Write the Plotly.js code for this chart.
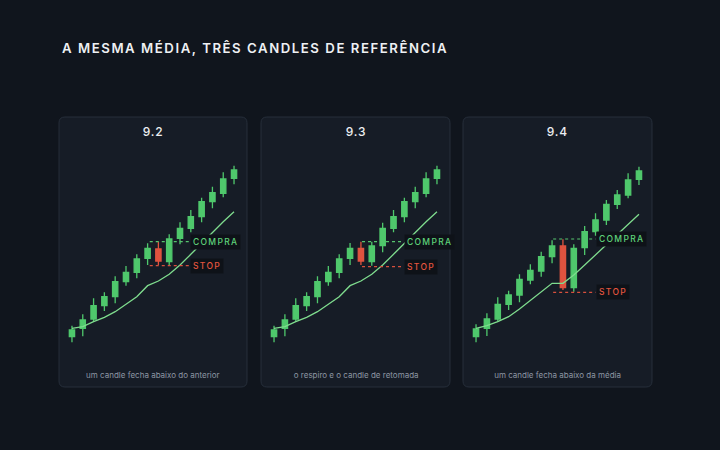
<!DOCTYPE html>
<html><head><meta charset="utf-8">
<script src="https://cdn.plot.ly/plotly-3.0.1.min.js"></script>
<style>
html,body{margin:0;padding:0;background:#10151d;}
.gtitle{letter-spacing:1.55px;}
.annotation-text{letter-spacing:1.3px;}
</style></head>
<body><div id="chart" style="width:720px;height:450px"></div>
<script>
// ---------- data ----------
const chartTitle = 'A MESMA MÉDIA, TRÊS CANDLES DE REFERÊNCIA';
const panelTitles = ['9.2', '9.3', '9.4'];
const panelCaptions = ['um candle fecha abaixo do anterior', 'o respiro e o candle de retomada', 'um candle fecha abaixo da média'];
const candleIdx = [1,2,3,4,5,6,7,8,9,10,11,12,13,14,15,16];

// 9.2
const p92Open  = [3.5, 6.0, 8.8, 12.8, 15.5, 20.0, 22.8, 27.0, 29.8, 26.0, 33.0, 36.0, 39.5, 44.0, 46.5, 51.0];
const p92High  = [6.8, 10.2, 15.0, 16.8, 21.6, 24.7, 28.2, 31.5, 32.0, 34.2, 37.8, 41.5, 45.2, 48.5, 52.8, 54.8];
const p92Low   = [1.8, 3.6, 8.0, 11.2, 13.5, 18.8, 21.0, 25.0, 25.0, 25.0, 31.2, 34.8, 37.8, 42.0, 45.3, 49.2];
const p92Close = [5.5, 8.5, 12.8, 15.5, 20.0, 22.8, 26.8, 30.0, 26.2, 32.8, 36.0, 39.5, 44.0, 46.7, 50.8, 53.5];
const p92Ma    = [6.0, 6.5, 8.0, 9.3, 11.0, 13.2, 15.5, 18.8, 20.2, 22.2, 25.0, 28.2, 31.5, 34.8, 38.0, 41.0];

// 9.3
const p93Open  = [3.5, 6.0, 8.8, 12.8, 15.5, 20.0, 22.8, 27.0, 30.0, 26.0, 30.8, 36.0, 39.5, 44.0, 46.5, 51.0];
const p93High  = [6.8, 10.2, 15.0, 16.8, 21.6, 24.7, 28.2, 31.6, 32.0, 32.0, 37.7, 41.5, 45.2, 48.5, 52.8, 54.8];
const p93Low   = [1.8, 3.6, 8.0, 11.2, 13.5, 18.8, 21.0, 25.0, 25.0, 24.8, 28.8, 34.8, 37.8, 42.0, 45.3, 49.2];
const p93Close = [5.5, 8.5, 12.8, 15.5, 20.0, 22.8, 26.8, 30.0, 26.2, 30.7, 36.0, 39.5, 44.0, 46.7, 50.8, 53.5];
const p93Ma    = [6.0, 6.5, 8.0, 9.3, 11.0, 13.2, 15.5, 18.8, 20.2, 22.2, 25.0, 28.2, 31.5, 34.8, 38.0, 41.0];

// 9.4
const p94Open  = [3.5, 6.0, 8.8, 13.2, 16.0, 20.5, 23.2, 27.5, 30.7, 18.2, 30.2, 35.0, 38.5, 43.2, 46.0, 50.7];
const p94High  = [7.2, 10.5, 15.3, 17.3, 22.2, 25.2, 29.0, 32.4, 32.7, 31.2, 36.7, 40.5, 44.5, 47.5, 52.5, 54.5];
const p94Low   = [1.8, 3.7, 8.0, 11.5, 13.8, 19.2, 21.5, 25.5, 17.5, 17.0, 28.0, 33.8, 37.0, 41.8, 45.0, 49.0];
const p94Close = [5.8, 8.8, 13.2, 16.0, 20.7, 23.4, 27.5, 30.7, 18.2, 30.0, 35.0, 38.5, 43.2, 46.0, 50.5, 53.2];
const p94Ma    = [6.0, 6.8, 8.0, 9.5, 11.8, 14.3, 16.9, 19.5, 19.5, 22.0, 25.0, 28.0, 31.0, 34.0, 37.0, 40.2];

// reference levels: [9.2, 9.3, 9.4]
const compraLevel = [32.0, 32.0, 32.8];
const stopLevel   = [24.8, 24.5, 16.8];
const levelStart  = [8.2, 9.1, 8.1];
const levelEnd    = [12.05, 12.95, 12.0];
const labelAt     = [11.95, 12.95, 12.05];
const compraText = 'COMPRA';
const stopText = 'STOP';

// ---------- style ----------
const W = 720, H = 450;
const BG = '#10151d', PANEL = '#161c26', PANEL_LINE = '#262e3a';
const GREEN = '#4fc86c', RED = '#e0533f', MA = '#7fdc8e';
const DASH_G = '#56c46e', DASH_R = '#d8503d';
const panelsPx = [[59, 247], [261, 450], [463, 652]];
const panelTop = 117, panelBottom = 387;
const px = v => v / W, py = v => 1 - v / H;

function roundRect(x0, y0, x1, y1, r) {
  const X = v => px(v).toFixed(5), Y = v => py(v).toFixed(5);
  return `M ${X(x0 + r)},${Y(y0)} L ${X(x1 - r)},${Y(y0)} Q ${X(x1)},${Y(y0)} ${X(x1)},${Y(y0 + r)} ` +
         `L ${X(x1)},${Y(y1 - r)} Q ${X(x1)},${Y(y1)} ${X(x1 - r)},${Y(y1)} ` +
         `L ${X(x0 + r)},${Y(y1)} Q ${X(x0)},${Y(y1)} ${X(x0)},${Y(y1 - r)} ` +
         `L ${X(x0)},${Y(y0 + r)} Q ${X(x0)},${Y(y0)} ${X(x0 + r)},${Y(y0)} Z`;
}

const sets = [
  [p92Open, p92High, p92Low, p92Close, p92Ma],
  [p93Open, p93High, p93Low, p93Close, p93Ma],
  [p94Open, p94High, p94Low, p94Close, p94Ma]
];

const traces = [];
const annotations = [];
const shapes = [];
const layout = {
  width: W, height: H,
  margin: {l: 0, r: 0, t: 0, b: 0},
  paper_bgcolor: BG, plot_bgcolor: 'rgba(0,0,0,0)',
  showlegend: false,
  font: {family: 'Inter, "DejaVu Sans", sans-serif', color: '#e8eaee'},
  title: {
    text: chartTitle, xref: 'paper', yref: 'paper',
    x: px(62), xanchor: 'left', y: py(48), yanchor: 'middle',
    font: {family: 'Inter, sans-serif', size: 13.2, weight: 600, color: '#eef0f3'}
  },
  hovermode: false
};

sets.forEach((s, i) => {
  const n = i === 0 ? '' : String(i + 1);
  const xa = 'x' + n, ya = 'y' + n;
  const [o, h, l, c, ma] = s;
  traces.push({
    type: 'candlestick', x: candleIdx, open: o, high: h, low: l, close: c,
    xaxis: xa, yaxis: ya, whiskerwidth: 0, hoverinfo: 'skip',
    increasing: {line: {color: GREEN, width: 1.3}, fillcolor: GREEN},
    decreasing: {line: {color: RED, width: 1.3}, fillcolor: RED}
  });
  traces.push({
    type: 'scatter', mode: 'lines', x: candleIdx, y: ma, xaxis: xa, yaxis: ya,
    line: {color: MA, width: 1.3}, hoverinfo: 'skip'
  });
  traces.push({
    type: 'scatter', mode: 'lines', x: [levelStart[i], levelEnd[i]], y: [compraLevel[i], compraLevel[i]],
    xaxis: xa, yaxis: ya, line: {color: DASH_G, width: 1.1, dash: '3px,3px'}, hoverinfo: 'skip'
  });
  traces.push({
    type: 'scatter', mode: 'lines', x: [levelStart[i], levelEnd[i]], y: [stopLevel[i], stopLevel[i]],
    xaxis: xa, yaxis: ya, line: {color: DASH_R, width: 1.1, dash: '3px,3px'}, hoverinfo: 'skip'
  });

  const [p0, p1] = panelsPx[i];
  layout['xaxis' + n] = {
    domain: [px(p0), px(p1)], range: [-0.2, 17.2], anchor: ya,
    showgrid: false, zeroline: false, showticklabels: false, ticks: '', showline: false,
    rangeslider: {visible: false}, fixedrange: true
  };
  layout['yaxis' + n] = {
    domain: [py(panelBottom), py(panelTop)], range: [-11.6, 69.4], anchor: xa,
    showgrid: false, zeroline: false, showticklabels: false, ticks: '', showline: false, fixedrange: true
  };

  shapes.push({
    type: 'path', xref: 'paper', yref: 'paper', layer: 'below',
    path: roundRect(p0, panelTop, p1, panelBottom, 6),
    fillcolor: PANEL, line: {color: PANEL_LINE, width: 1}
  });

  annotations.push({
    text: panelTitles[i], xref: 'paper', yref: 'paper', x: px((p0 + p1) / 2), y: py(131.5),
    xanchor: 'center', yanchor: 'middle', showarrow: false,
    font: {family: 'Inter, sans-serif', size: 12, weight: 500, color: '#eceef1'}
  });
  annotations.push({
    text: panelCaptions[i], xref: 'paper', yref: 'paper', x: px((p0 + p1) / 2), y: py(375),
    xanchor: 'center', yanchor: 'middle', showarrow: false,
    font: {family: 'Inter, sans-serif', size: 8, color: '#8d96a3'}
  });
  annotations.push({
    text: compraText, xref: xa, yref: ya, x: labelAt[i], y: compraLevel[i],
    xanchor: 'left', yanchor: 'middle', showarrow: false, bgcolor: '#0e1218', borderpad: 2,
    font: {family: 'Inter, sans-serif', size: 8.5, weight: 500, color: '#5fd27a'}
  });
  annotations.push({
    text: stopText, xref: xa, yref: ya, x: labelAt[i], y: stopLevel[i],
    xanchor: 'left', yanchor: 'middle', showarrow: false, bgcolor: '#0e1218', borderpad: 2,
    font: {family: 'Inter, sans-serif', size: 8.5, weight: 500, color: '#e5553f'}
  });
});

layout.shapes = shapes;
layout.annotations = annotations;

Plotly.newPlot('chart', traces, layout, {staticPlot: true, displayModeBar: false}).then(() => {
  document.querySelectorAll('.annotation-text').forEach(t => {
    if (panelCaptions.includes(t.textContent)) t.style.letterSpacing = '0px';
    if (panelTitles.includes(t.textContent)) t.style.letterSpacing = '0.8px';
  });
});
</script></body></html>
